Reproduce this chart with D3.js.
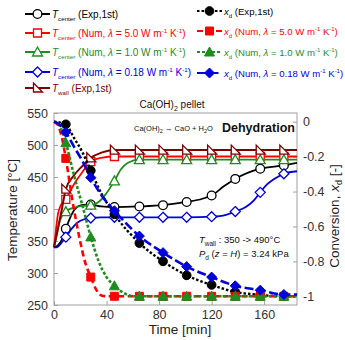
<!DOCTYPE html>
<html><head><meta charset="utf-8">
<script src="https://cdn.jsdelivr.net/npm/d3@7"></script>
<style>body{margin:0;background:#fff}svg{font-family:"Liberation Sans",Arial,sans-serif}</style>
</head><body><svg id="c" width="345" height="340"></svg>
<script>
// ---------- data ----------
const markerTimes = [9,28,46,65,83,101,120,138,157,175];
const xTicks = [0,40,80,120,160];
const tTicks = [250,300,350,400,450,500,550];
const xdTicks = [0,-0.2,-0.4,-0.6,-0.8,-1];
const xdTickLabels = ["0","-0.2","-0.4","-0.6","-0.8","-1"];

// Temperature curves (time, value)
const tExpTime = [0,3,6,9,12,16,21,28,36,46,65,83,101,113,120,129,138,157,175,185];
const tExpVal  = [340,343,352,369,385,400,406,407,404,403,404,406,411,416,421,435,447,463,468,472];
const tExpMk   = [369,407,403,404,406,411,421,447,463,468];

const t50Time = [0,1.5,3,5,9,15,21,28,36,46,185];
const t50Val  = [340,368,392,405,415,438,456,474,480,482,482];
const t50Mk   = [415,474,482,482,482,482,482,482,482,482];

const t10Time = [0,2,4,6,9,15,22,28,34,39,46,51,56,65,185];
const t10Val  = [340,358,378,389,396,402,405,406,411,422,444,462,472,477,477];
const t10Mk   = [396,406,444,477,477,477,477,477,477,477];

const t018Time = [0,2,4,6,9,13,18,23,28,36,46,65,83,101,120,131,138,146,152,157,162,167,175,185];
const t018Val  = [340,340,343,348,356,368,379,384,386,387,387,387,387,387,388,391,396,403,413,426,438,446,455,459];
const t018Mk   = [356,386,387,387,387,387,388,396,426,455];

const tWallTime = [0,3,6,9,15,22,28,36,46,185];
const tWallVal  = [340,370,400,431,452,468,480,488,492,492];
const tWallMk   = [431,480,492,492,492,492,492,492,492,492];

// Conversion curves
const xExpTime = [0,5,9,15,22,28,36,46,65,83,101,120,138,157,175,185];
const xExpVal  = [0,-0.005,-0.015,-0.09,-0.18,-0.28,-0.41,-0.53,-0.695,-0.80,-0.88,-0.935,-0.975,-0.992,-1.0,-1.0];
const xExpMk   = [-0.015,-0.28,-0.53,-0.695,-0.80,-0.88,-0.935,-0.975,-0.992,-1.0];

const x50Time = [0,3,6,9,14,19.5,23.5,28,32,36,41,185];
const x50Val  = [0,-0.02,-0.09,-0.21,-0.45,-0.67,-0.80,-0.89,-0.96,-0.995,-1,-1];
const x50Mk   = [-0.21,-0.89,-1,-1,-1,-1,-1,-1,-1,-1];

const x10Time = [0,3,6,9,15,22,28,34,40,46,53,61,185];
const x10Val  = [0,-0.01,-0.05,-0.12,-0.30,-0.49,-0.66,-0.80,-0.89,-0.94,-0.98,-1,-1];
const x10Mk   = [-0.12,-0.66,-0.94,-1,-1,-1,-1,-1,-1,-1];

const x018Time = [0,3,6,9,15,22,28,37,46,65,83,101,120,138,157,175,185];
const x018Val  = [0,-0.01,-0.03,-0.06,-0.14,-0.23,-0.32,-0.43,-0.51,-0.655,-0.75,-0.83,-0.89,-0.94,-0.965,-0.99,-0.99];
const x018Mk   = [-0.06,-0.32,-0.51,-0.655,-0.75,-0.83,-0.89,-0.94,-0.965,-0.99];

const C = {black:"#000000", red:"#ff0000", green:"#1e8c1e", blue:"#0000dd", maroon:"#800000"};

// ---------- layout ----------
const svg = d3.select("#c");
const x = d3.scaleLinear().domain([0,185]).range([54,297]);
const yT = d3.scaleLinear().domain([250,550]).range([305,113]);
const yX = d3.scaleLinear().domain([-1.05,0.05]).range([305,113]);

// frame
svg.append("rect").attr("x",x(0)).attr("y",yT(550)).attr("width",x(185)-x(0)).attr("height",yT(250)-yT(550))
  .attr("fill","none").attr("stroke","#a0a0a0").attr("stroke-width",1);

function styleAxis(g){
  g.select(".domain").remove();
  g.selectAll(".tick line").attr("stroke","#a0a0a0");
  g.selectAll(".tick text").attr("fill","#333").style("font-size","12.5px").style("font-family","'Liberation Sans',Arial,sans-serif");
}
svg.append("g").attr("transform",`translate(0,${yT(250)})`)
  .call(d3.axisBottom(x).tickValues(xTicks).tickSizeInner(-4).tickSizeOuter(0).tickPadding(5)).call(styleAxis);
svg.append("g").attr("transform",`translate(${x(0)},0)`)
  .call(d3.axisLeft(yT).tickValues(tTicks).tickSizeInner(-4).tickSizeOuter(0).tickPadding(6)).call(styleAxis);
svg.append("g").attr("transform",`translate(${x(185)},0)`)
  .call(d3.axisRight(yX).tickValues(xdTicks).tickFormat((d,i)=>xdTickLabels[i]).tickSizeInner(-4).tickSizeOuter(0).tickPadding(6)).call(styleAxis);

// axis titles
svg.append("text").attr("x",180).attr("y",334).attr("text-anchor","middle").style("font-size","13.5px").attr("fill","#222").text("Time [min]");
svg.append("text").attr("transform","translate(17,210) rotate(-90)").attr("text-anchor","middle").style("font-size","13.5px").attr("fill","#222").text("Temperature [°C]");
const rt = svg.append("text").attr("transform","translate(339,216) rotate(-90)").attr("text-anchor","middle").style("font-size","13.5px").attr("fill","#222");
rt.append("tspan").text("Conversion, ");
rt.append("tspan").attr("font-style","italic").text("x");
rt.append("tspan").attr("dy",3).style("font-size","9px").text("d");
rt.append("tspan").attr("dy",-3).text(" [-]");

// ---------- markers ----------
function mPath(type){
  switch(type){
    case "circle": return d3.symbol(d3.symbolCircle,60)();
    case "square": return "M-4,-4L4,-4L4,4L-4,4Z";
    case "tri": return "M0,-5L5,4L-5,4Z";
    case "diamond": return "M0,-5L5,0L0,5L-5,0Z";
    case "flag": return "M-4,-5L5,4L-4,4Z";
  }
}
function drawMarker(g, cx, cy, type, filled, color){
  g.append("path").attr("d",mPath(type)).attr("transform",`translate(${cx},${cy})`)
   .attr("fill",filled?color:"#fff").attr("stroke",color).attr("stroke-width",filled?1:1.3);
}

const series = [
  {t:tExpTime, v:tExpVal, mk:tExpMk, y:yT, color:C.black, type:"circle", filled:false, dash:null, w:1.8},
  {t:t50Time, v:t50Val, mk:t50Mk, y:yT, color:C.red, type:"square", filled:false, dash:null, w:1.8},
  {t:t10Time, v:t10Val, mk:t10Mk, y:yT, color:C.green, type:"tri", filled:false, dash:null, w:1.8},
  {t:t018Time, v:t018Val, mk:t018Mk, y:yT, color:C.blue, type:"diamond", filled:false, dash:null, w:1.8},
  {t:tWallTime, v:tWallVal, mk:tWallMk, y:yT, color:C.maroon, type:"flag", filled:false, dash:null, w:2},
  {t:xExpTime, v:xExpVal, mk:xExpMk, y:yX, color:C.black, type:"circle", filled:true, dash:"2.5,2", w:2.4},
  {t:x50Time, v:x50Val, mk:x50Mk, y:yX, color:C.red, type:"square", filled:true, dash:"6,3.5", w:2.6},
  {t:x10Time, v:x10Val, mk:x10Mk, y:yX, color:C.green, type:"tri", filled:true, dash:"3,2", w:2.6},
  {t:x018Time, v:x018Val, mk:x018Mk, y:yX, color:C.blue, type:"diamond", filled:true, dash:"9,3.5", w:2.6},
];

const plot = svg.append("g");
series.forEach(s=>{
  const pts = s.t.map((t,i)=>[t,s.v[i]]);
  const line = d3.line().x(d=>x(d[0])).y(d=>s.y(d[1])).curve(d3.curveMonotoneX);
  plot.append("path").attr("d",line(pts)).attr("fill","none").attr("stroke",s.color)
    .attr("stroke-width",s.w).attr("stroke-dasharray",s.dash);
  markerTimes.forEach((t,i)=>drawMarker(plot, x(t), s.y(s.mk[i]), s.type, s.filled, s.color));
});

// ---------- annotations ----------
const tt = svg.append("text").attr("x",172).attr("y",108).attr("text-anchor","middle").style("font-size","10px").attr("fill","#111");
tt.append("tspan").text("Ca(OH)");
tt.append("tspan").attr("dy",2.5).style("font-size","7px").text("2");
tt.append("tspan").attr("dy",-2.5).text(" pellet");

const rx = svg.append("text").attr("x",134).attr("y",131).style("font-size","7.5px").attr("fill","#111");
rx.append("tspan").text("Ca(OH)");
rx.append("tspan").attr("dy",2).style("font-size","5.5px").text("2");
rx.append("tspan").attr("dy",-2).text(" \u2192 CaO + H");
rx.append("tspan").attr("dy",2).style("font-size","5.5px").text("2");
rx.append("tspan").attr("dy",-2).text("O");

svg.append("text").attr("x",222).attr("y",132).style("font-size","12.5px").style("font-weight","bold").attr("fill","#111").text("Dehydration");

const a1 = svg.append("text").attr("x",199).attr("y",243).style("font-size","9.5px").attr("fill","#111");
a1.append("tspan").attr("font-style","italic").text("T");
a1.append("tspan").attr("dy",2.5).style("font-size","6.5px").text("wall");
a1.append("tspan").attr("dy",-2.5).text(" : 350 -> 490°C");
const a2 = svg.append("text").attr("x",199).attr("y",257).style("font-size","9.5px").attr("fill","#111");
a2.append("tspan").attr("font-style","italic").text("P");
a2.append("tspan").attr("dy",2.5).style("font-size","6.5px").text("d");
a2.append("tspan").attr("dy",-2.5).text(" (");
a2.append("tspan").attr("font-style","italic").text("z");
a2.append("tspan").text(" = ");
a2.append("tspan").attr("font-style","italic").text("H");
a2.append("tspan").text(") = 3.24 kPa");

// ---------- legend ----------
const legLeft = [
  {sym:"T", sub:"center", rest:"(Exp,1st)", num:null, color:C.black, type:"circle", filled:false, dash:null, y:14},
  {sym:"T", sub:"center", rest:null, num:"5.0", color:C.red, type:"square", filled:false, dash:null, y:33},
  {sym:"T", sub:"center", rest:null, num:"1.0", color:C.green, type:"tri", filled:false, dash:null, y:52},
  {sym:"T", sub:"center", rest:null, num:"0.18", color:C.blue, type:"diamond", filled:false, dash:null, y:72},
  {sym:"T", sub:"wall", rest:"(Exp,1st)", num:null, color:C.maroon, type:"flag", filled:false, dash:null, y:88},
];
const legRight = [
  {sym:"x", sub:"d", rest:"(Exp,1st)", num:null, color:C.black, type:"circle", filled:true, dash:"2.5,2", y:11},
  {sym:"x", sub:"d", rest:null, num:"5.0", color:C.red, type:"square", filled:true, dash:"6,3.5", y:31},
  {sym:"x", sub:"d", rest:null, num:"1.0", color:C.green, type:"tri", filled:true, dash:"3,2", y:52},
  {sym:"x", sub:"d", rest:null, num:"0.18", color:C.blue, type:"diamond", filled:true, dash:"9,3.5", y:73},
];
function legendCol(items, x0, fs){
  const g = svg.append("g");
  items.forEach(it=>{
    g.append("line").attr("x1",x0).attr("x2",x0+25).attr("y1",it.y).attr("y2",it.y)
      .attr("stroke",it.color).attr("stroke-width",2).attr("stroke-dasharray",it.dash);
    drawMarker(g, x0+12.5, it.y, it.type, it.filled, it.color);
    const t = g.append("text").attr("x",x0+27).attr("y",it.y+3.5).style("font-size",fs+"px").attr("fill",it.color);
    t.append("tspan").attr("font-style","italic").text(it.sym);
    t.append("tspan").attr("dy",3).style("font-size",(fs*0.62)+"px").text(it.sub);
    if(it.rest){
      t.append("tspan").attr("dy",-3).text(" "+it.rest);
    } else {
      t.append("tspan").attr("dy",-3).text(" (Num, ");
      t.append("tspan").attr("font-style","italic").text("\u03bb");
      t.append("tspan").text(" = "+it.num+" W m");
      t.append("tspan").attr("dy",-3.5).style("font-size",(fs*0.62)+"px").text("-1");
      t.append("tspan").attr("dy",3.5).text(" K");
      t.append("tspan").attr("dy",-3.5).style("font-size",(fs*0.62)+"px").text("-1");
      t.append("tspan").attr("dy",3.5).text(")");
    }
  });
}
legendCol(legLeft, 25, 10);
legendCol(legRight, 197, 9.6);
</script></body></html>
